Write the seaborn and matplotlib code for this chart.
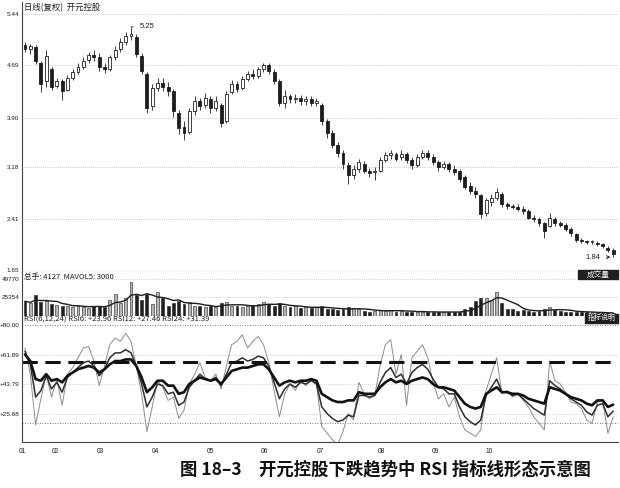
import numpy as np
import pandas as pd
import matplotlib
matplotlib.use("Agg")
import matplotlib.pyplot as plt
from matplotlib.patches import Rectangle
import seaborn as sns

# ---- data (one bar is roughly two trading days) ----
opens = [4.98, 4.92, 4.95, 4.72, 4.45, 4.62, 4.38, 4.45, 4.32, 4.50,
         4.58, 4.66, 4.76, 4.84, 4.80, 4.66, 4.63, 4.80, 4.92, 5.02,
         5.12, 5.10, 4.82, 4.55, 4.08, 4.35, 4.42, 4.36, 4.30, 3.98,
         3.76, 3.70, 4.00, 4.15, 4.10, 4.18, 4.05, 4.10, 3.85, 4.28,
         4.40, 4.35, 4.48, 4.55, 4.52, 4.62, 4.68, 4.58, 4.45, 4.12,
         4.22, 4.18, 4.20, 4.15, 4.18, 4.12, 4.10, 3.85, 3.68, 3.50,
         3.38, 3.20, 3.05, 3.15, 3.22, 3.12, 3.10, 3.12, 3.28, 3.35,
         3.36, 3.32, 3.36, 3.28, 3.20, 3.32, 3.38, 3.32, 3.25, 3.18,
         3.22, 3.15, 3.12, 3.02, 2.90, 2.82, 2.76, 2.50, 2.65, 2.72,
         2.78, 2.62, 2.60, 2.58, 2.56, 2.52, 2.42, 2.40, 2.34, 2.30,
         2.40, 2.35, 2.32, 2.25, 2.18, 2.10, 2.08, 2.06, 2.05, 2.03,
         1.98, 1.95]
closes = [4.92, 4.97, 4.75, 4.40, 4.82, 4.36, 4.45, 4.30, 4.50, 4.58,
          4.66, 4.75, 4.84, 4.80, 4.66, 4.62, 4.80, 4.90, 5.02, 5.12,
          5.15, 4.85, 4.60, 4.05, 4.35, 4.42, 4.36, 4.30, 4.00, 3.75,
          3.68, 4.00, 4.15, 4.08, 4.20, 4.05, 4.15, 3.82, 4.25, 4.40,
          4.33, 4.48, 4.55, 4.52, 4.62, 4.68, 4.60, 4.45, 4.12, 4.22,
          4.18, 4.20, 4.15, 4.18, 4.12, 4.15, 3.85, 3.68, 3.50, 3.38,
          3.22, 3.05, 3.15, 3.25, 3.12, 3.08, 3.12, 3.28, 3.35, 3.38,
          3.30, 3.36, 3.28, 3.20, 3.32, 3.38, 3.32, 3.25, 3.18, 3.22,
          3.15, 3.10, 3.00, 2.88, 2.82, 2.78, 2.48, 2.68, 2.72, 2.80,
          2.62, 2.60, 2.58, 2.56, 2.52, 2.42, 2.40, 2.35, 2.22, 2.42,
          2.35, 2.32, 2.25, 2.20, 2.10, 2.08, 2.06, 2.07, 2.03, 2.00,
          1.95, 1.88]
highs = [5.03, 5.00, 4.98, 4.75, 4.90, 4.66, 4.50, 4.48, 4.53, 4.63,
         4.72, 4.80, 4.88, 4.90, 4.86, 4.72, 4.84, 4.96, 5.08, 5.18,
         5.25, 5.14, 4.86, 4.58, 4.40, 4.50, 4.50, 4.44, 4.33, 4.02,
         3.85, 4.05, 4.22, 4.20, 4.27, 4.22, 4.22, 4.12, 4.30, 4.46,
         4.45, 4.52, 4.60, 4.62, 4.66, 4.72, 4.72, 4.62, 4.48, 4.32,
         4.26, 4.25, 4.24, 4.22, 4.22, 4.20, 4.12, 3.88, 3.72, 3.55,
         3.42, 3.25, 3.20, 3.30, 3.26, 3.16, 3.18, 3.32, 3.40, 3.43,
         3.40, 3.42, 3.40, 3.32, 3.36, 3.42, 3.42, 3.36, 3.28, 3.26,
         3.25, 3.20, 3.15, 3.05, 2.95, 2.88, 2.78, 2.72, 2.78, 2.86,
         2.80, 2.65, 2.63, 2.62, 2.60, 2.55, 2.46, 2.44, 2.36, 2.50,
         2.44, 2.38, 2.35, 2.28, 2.20, 2.12, 2.10, 2.10, 2.08, 2.05,
         2.00, 1.97]
lows = [4.88, 4.85, 4.70, 4.28, 4.36, 4.32, 4.34, 4.17, 4.30, 4.47,
        4.55, 4.62, 4.72, 4.75, 4.60, 4.57, 4.60, 4.76, 4.88, 4.98,
        5.05, 4.80, 4.55, 3.98, 4.02, 4.30, 4.30, 4.22, 3.92, 3.66,
        3.57, 3.66, 3.95, 4.02, 4.05, 3.98, 4.00, 3.77, 3.82, 4.25,
        4.28, 4.32, 4.45, 4.48, 4.50, 4.58, 4.55, 4.40, 4.08, 4.05,
        4.12, 4.12, 4.10, 4.10, 4.08, 4.08, 3.80, 3.60, 3.45, 3.32,
        3.15, 2.92, 3.00, 3.10, 3.08, 3.02, 2.98, 3.10, 3.25, 3.30,
        3.26, 3.28, 3.24, 3.15, 3.18, 3.30, 3.28, 3.20, 3.12, 3.14,
        3.10, 3.05, 2.95, 2.85, 2.78, 2.72, 2.42, 2.45, 2.60, 2.68,
        2.58, 2.56, 2.55, 2.52, 2.48, 2.40, 2.36, 2.30, 2.12, 2.28,
        2.30, 2.28, 2.22, 2.15, 2.06, 2.05, 2.03, 2.03, 2.00, 1.97,
        1.92, 1.84]
volumes = [20000, 17000, 28000, 19000, 21000, 16000, 15000, 14000, 13000, 12000,
           15000, 12000, 11000, 14000, 13000, 12000, 22000, 30000, 18000, 25000,
           46000, 28000, 22000, 30000, 16000, 33000, 24000, 14000, 18000, 20000,
           16000, 19000, 13000, 14000, 12000, 13000, 12000, 18000, 19000, 14000,
           13000, 12000, 14000, 15000, 16000, 19000, 16000, 13000, 17000, 14000,
           12000, 13000, 11000, 12000, 11000, 12000, 13000, 10000, 9000, 8000,
           9000, 12000, 11000, 9000, 7000, 6000, 7000, 8000, 7000, 8000,
           6000, 7000, 6000, 6000, 5000, 6000, 5000, 6000, 5000, 5000,
           6000, 5000, 6000, 9000, 12000, 20000, 25000, 24000, 22000, 33000,
           18000, 10000, 9000, 7000, 8000, 7000, 6000, 7000, 9000, 12000,
           8000, 7000, 6000, 6000, 5000, 6000, 5000, 5000, 4000, 4000,
           4000, 4127]
rsi6 = [66, 50, 19, 35, 50, 36, 47, 31, 50, 54,
        60, 66, 67, 58, 43, 55, 68, 72, 70, 75,
        70, 55, 38, 15, 30, 46, 42, 34, 36, 23,
        28, 44, 50, 57, 48, 46, 50, 41, 55, 68,
        70, 74, 66, 70, 73, 68, 57, 40, 24, 38,
        44, 40, 46, 43, 47, 44, 18, 14, 10, 7,
        15, 26, 22, 45, 38, 35, 37, 55, 68, 71,
        50, 62, 31, 60, 64, 68, 60, 45, 35, 38,
        30, 36, 24, 16, 14, 12, 16, 40, 50, 60,
        38, 40, 36, 38, 34, 30, 24, 20, 16, 58,
        46, 44, 39, 33, 32, 29, 22, 20, 33, 34,
        14, 23.96]
rsi12 = [64, 56, 36, 40, 49, 41, 45, 39, 48, 51,
         54, 57, 58, 55, 49, 53, 60, 63, 63, 65,
         63, 55, 44, 30, 36, 44, 43, 38, 39, 31,
         33, 42, 46, 50, 47, 46, 48, 43, 50, 57,
         58, 60, 58, 59, 61, 60, 55, 45, 35, 41,
         44, 42, 45, 44, 46, 44, 30, 26, 23, 21,
         22, 25, 24, 37, 37, 36, 37, 45, 51, 54,
         48, 50, 44, 51, 54, 56, 53, 47, 42, 41,
         38, 38, 30, 24, 21, 19, 22, 37, 42, 47,
         39, 39, 37, 38, 35, 32, 29, 27, 25, 46,
         43, 41, 38, 35, 33, 31, 27, 25, 31, 32,
         24, 27.46]
rsi24 = [62, 58, 47, 46, 50, 46, 47, 45, 49, 51,
         53, 54, 55, 54, 51, 53, 56, 58, 58, 59,
         59, 55, 48, 39, 42, 46, 46, 43, 43, 38,
         39, 44, 46, 48, 47, 46, 47, 44, 48, 52,
         53, 54, 54, 55, 56, 56, 53, 48, 43, 45,
         46, 45, 46, 46, 47, 46, 38, 36, 34, 33,
         33, 34, 34, 39, 38, 38, 38, 42, 45, 47,
         45, 46, 44, 46, 47, 48, 47, 44, 42, 42,
         41, 40, 36, 32, 30, 29, 30, 38, 40, 42,
         39, 39, 38, 38, 37, 35, 34, 33, 32, 42,
         41, 40, 38, 36, 35, 34, 32, 31, 34, 34,
         30, 31.39]

month_labels = ["01", "02", "03", "04", "05", "06", "07", "08", "09", "10"]
month_pos = [-0.57, 5.8, 14.2, 24.7, 34.9, 45.1, 55.8, 67.2, 77.5, 87.5]
price_ticks = [5.44, 4.69, 3.90, 3.18, 2.41, 1.65]
vol_ticks = [49770, 25354]
rsi_ticks = [80.00, 61.89, 43.79, 25.68]
rsi_low_line = 20
rsi_trend_level = 57.3

df = pd.DataFrame({"open": opens, "close": closes, "high": highs, "low": lows,
                   "volume": volumes, "rsi6": rsi6, "rsi12": rsi12, "rsi24": rsi24})
df["day"] = np.arange(len(df))
df["mavol"] = df["volume"].rolling(5, min_periods=1).mean()
up = df["close"] >= df["open"]

sns.set_style("white")
plt.rcParams["font.family"] = ["Noto Sans CJK SC", "DejaVu Sans"]
plt.rcParams["axes.unicode_minus"] = False

ink = "#1e1e1e"
fig = plt.figure(figsize=(6.2, 4.88), dpi=100)
left, width = 22 / 620, 596 / 620
ax1 = fig.add_axes([left, 1 - 272 / 488, width, 270 / 488])
ax2 = fig.add_axes([left, 1 - 316 / 488, width, 44 / 488], sharex=ax1)
ax3 = fig.add_axes([left, 1 - 442 / 488, width, 126 / 488], sharex=ax1)

# ---- price candles ----
ax1.vlines(df["day"], df["low"], df["high"], color=ink, lw=0.6, zorder=2)
body = (df["close"] - df["open"]).abs().clip(lower=0.012)
ax1.bar(df["day"][up], body[up], bottom=df["open"][up], width=0.55,
        color="white", edgecolor=ink, lw=0.6, zorder=3)
ax1.bar(df["day"][~up], body[~up], bottom=df["close"][~up], width=0.55,
        color=ink, edgecolor=ink, lw=0.6, zorder=3)
ax1.set_ylim(1.62, 5.618)
ax1.set_yticks(price_ticks)
ax1.set_yticklabels([f"{v:.2f}" for v in price_ticks])
for v in price_ticks[:-1]:
    ax1.axhline(v, color="#9a9a9a", lw=0.5, ls=(0, (1, 2)), zorder=0)
ax1.text(0.004, 0.997, "日线(复权)  开元控股", transform=ax1.transAxes,
         fontsize=6, va="top", ha="left", color=ink)
top_i = df["high"].idxmax()
ax1.annotate(f"{df['high'].max():.2f}", xy=(top_i, df["high"].max()),
             xytext=(6, 0), textcoords="offset points", fontsize=5.5,
             fontfamily="Liberation Sans", va="center", color=ink,
             arrowprops=dict(arrowstyle="-", lw=0.6, color=ink))
low_i = df["low"].idxmin()
ax1.annotate(f"{df['low'].min():.2f}", xy=(low_i, df["low"].min()),
             xytext=(-9, 0), textcoords="offset points", fontsize=5.5,
             fontfamily="Liberation Sans", va="center", ha="right", color=ink,
             arrowprops=dict(arrowstyle="->", lw=0.6, color=ink))

# ---- volume ----
ax2.bar(df["day"][up], df["volume"][up], width=0.55, color="#b5b5b5",
        edgecolor=ink, lw=0.4)
ax2.bar(df["day"][~up], df["volume"][~up], width=0.55, color=ink,
        edgecolor=ink, lw=0.4)
sns.lineplot(data=df, x="day", y="mavol", color=ink, lw=1.0, ax=ax2)
ax2.set_ylim(0, 59700)
ax2.set_yticks(vol_ticks)
ax2.set_yticklabels([str(v) for v in vol_ticks])
for v in vol_ticks:
    ax2.axhline(v, color="#a8a8a8", lw=0.5, ls=(0, (1, 2)), zorder=0)
ax2.text(0.004, 0.985, f"总手: {volumes[-1]}  MAVOL5: 3000", transform=ax2.transAxes,
         fontsize=5.5, va="top", ha="left", color=ink)
ax2.add_patch(Rectangle((0.933, 0.84), 0.067, 0.205, transform=ax2.transAxes,
                        color=ink, clip_on=False, zorder=5))
ax2.text(0.966, 0.94, "成交量", transform=ax2.transAxes, fontsize=5.5,
         color="white", ha="center", va="center", zorder=6)

# ---- RSI ----
sns.lineplot(data=df, x="day", y="rsi6", color="#8c8c8c", lw=0.7, ax=ax3)
sns.lineplot(data=df, x="day", y="rsi12", color="#2e2e2e", lw=1.1, ax=ax3)
sns.lineplot(data=df, x="day", y="rsi24", color="#111111", lw=1.9, ax=ax3)
ax3.axhline(rsi_trend_level, color="#111111", lw=2.2, ls=(0, (5, 2.5)))
for v in rsi_ticks[1:]:
    ax3.axhline(v, color="#b0b0b0", lw=0.5, ls=(0, (1, 2)), zorder=0)
for v in (rsi_ticks[0], rsi_low_line):
    ax3.axhline(v, color="#555555", lw=0.6, ls=(0, (1, 2)), zorder=0)
ax3.set_ylim(8.6, 85.5)
ax3.set_yticks(rsi_ticks)
ax3.set_yticklabels([f"+{v:.2f}" for v in rsi_ticks])
ax3.text(0.003, 1.0, f"RSI(6,12,24) RSI6: {rsi6[-1]:+.2f} RSI12: {rsi12[-1]:+.2f} "
         f"RSI24: {rsi24[-1]:+.2f}", transform=ax3.transAxes, fontsize=5.5,
         va="top", ha="left", color=ink)
ax3.add_patch(Rectangle((0.945, 0.944), 0.055, 0.075, transform=ax3.transAxes,
                        color=ink, clip_on=False, zorder=5))
ax3.text(0.9725, 0.982, "指标说明", transform=ax3.transAxes, fontsize=5,
         color="white", ha="center", va="center", zorder=6)

ax3.set_xlim(-0.57, 111.9)
ax3.set_xticks(month_pos)
ax3.set_xticklabels(month_labels)

for ax in (ax1, ax2, ax3):
    ax.set_xlabel("")
    ax.set_ylabel("")
    for s in ("top", "right"):
        ax.spines[s].set_visible(False)
    for s in ("left", "bottom"):
        ax.spines[s].set_color("#444444")
        ax.spines[s].set_linewidth(0.8)
    ax.tick_params(axis="y", labelsize=4.6, length=1.5, width=0.5, pad=0.5, colors=ink)
    ax.tick_params(axis="x", labelsize=4.8, length=2, width=0.5, pad=2, colors=ink)
    for lab in ax.get_yticklabels() + ax.get_xticklabels():
        lab.set_fontfamily("Liberation Sans")
ax1.tick_params(axis="x", labelbottom=False, length=0)
ax2.tick_params(axis="x", labelbottom=False, length=0)

fig.text(0.621, 0.037, "图 18–3　开元控股下跌趋势中 RSI 指标线形态示意图",
         ha="center", va="center", fontsize=12.5, fontweight="bold", color="#111111")

fig.savefig("out.png", dpi=100)
